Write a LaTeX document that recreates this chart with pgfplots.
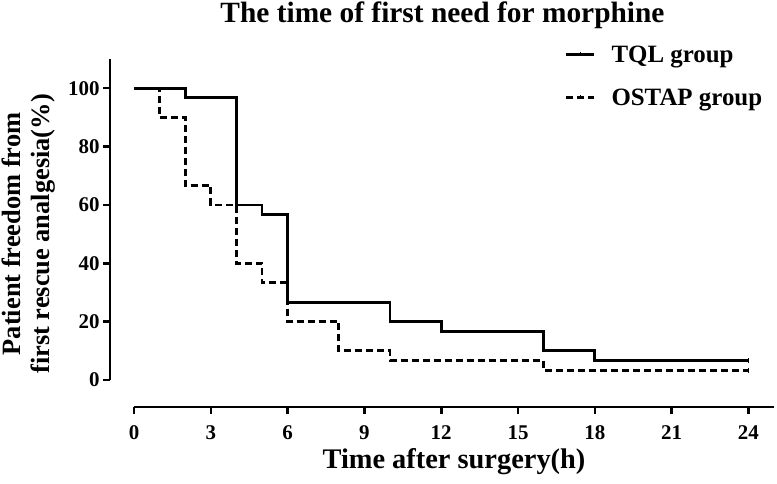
\documentclass[border=0pt]{standalone}
\usepackage{fontspec}
\setmainfont{Liberation Serif}
\usepackage{pgfplots}
\pgfplotsset{compat=1.18}
\begin{document}
\begin{tikzpicture}
\begin{axis}[
  at={(134bp,104bp)}, anchor=south west,
  scale only axis, width=640bp, height=321bp,
  xmin=0, xmax=25, ymin=0, ymax=110,
  axis lines=left,
  axis line style={-, line width=2.6bp, black},
  axis x line shift=27bp,
  axis y line shift=24bp,
  xtick={0,3,...,24}, ytick={0,20,...,100},
  tick align=outside, major tick length=7bp,
  tick style={line width=2.6bp, black},
  minor tick num=0,
  /pgf/number format/assume math mode=true,
  ticklabel style={font=\fontsize{21}{24}\selectfont\bfseries},
  xticklabel style={yshift=-8bp},
  clip=false,
  title={The time of first need for morphine},
  title style={at={(axis description cs:0.482,1)}, anchor=base, yshift=30.3bp,
    font=\fontsize{29.5}{34}\selectfont\bfseries},
  xlabel={Time after surgery(h)},
  xlabel style={at={(axis description cs:0.5,0)}, anchor=base, yshift=-88bp,
    font=\fontsize{28.5}{34}\selectfont\bfseries},
  ylabel={Patient freedom from\\first rescue analgesia(\%)},
  ylabel style={at={(axis description cs:0,0.455)}, anchor=center, yshift=105bp,
    align=center, font=\fontsize{26.5}{29}\selectfont\bfseries},
  legend style={at={(axis description cs:0.673,1.048)}, anchor=north west,
    draw=none, fill=none, inner sep=0pt, outer sep=0pt, row sep=21bp,
    font=\fontsize{25}{30}\selectfont\bfseries,
    /tikz/every odd column/.append style={column sep=14bp}},
  legend cell align=left,
  legend image code/.code={\draw[#1] (0bp,0bp) -- (28bp,0bp);
    \draw[solid, line width=1.2bp] (14bp,0bp) -- (14bp,3bp);},
]
\addplot[black, line width=2.8bp, const plot] coordinates {
  (0,100) (2,96.67) (4,60) (5,56.67) (6,26.67) (10,20) (12,16.67) (16,10) (18,6.67) (24,6.67)
};
\addlegendentry{TQL group}
\addplot[black, line width=2.8bp, const plot, dash pattern=on 7bp off 4bp] coordinates {
  (0,100) (1,90) (2,66.67) (3,60) (4,40) (5,33.33) (6,20) (8,10) (10,6.67) (16,3.33) (24,3.33)
};
\addlegendentry{OSTAP group}
\addplot[forget plot, only marks, mark=|, mark size=2.5bp, mark options={line width=1.5bp, black, solid}]
  coordinates {(24,6.67) (24,3.33)};
\end{axis}
\pgfresetboundingbox
\useasboundingbox (0,0) rectangle (777bp,484bp);
\end{tikzpicture}
\end{document}
